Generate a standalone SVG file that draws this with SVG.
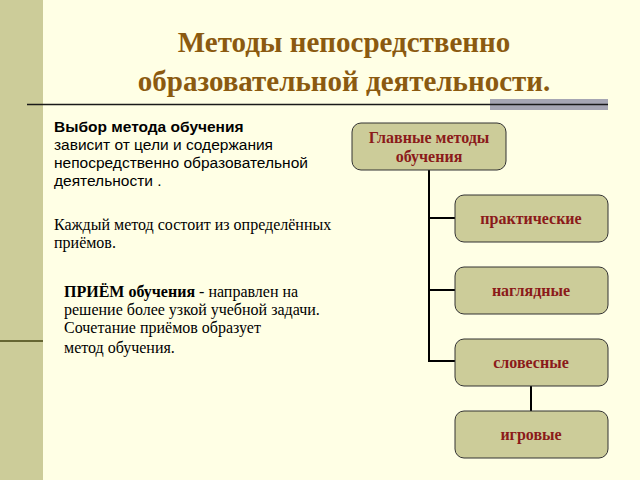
<svg xmlns="http://www.w3.org/2000/svg" width="640" height="480" viewBox="0 0 640 480">
<style>
.box{fill:#cccc99;stroke:#333;stroke-width:1}
.bt{font-family:"Liberation Serif",serif;font-weight:bold;font-size:16px;fill:#8b1a1a;text-anchor:middle}
.sans{font-family:"Liberation Sans",sans-serif;font-size:15.5px;fill:#000}
.serif{font-family:"Liberation Serif",serif;font-size:16px;fill:#000}
.c{stroke:#000;stroke-width:2;fill:none}
</style>
<rect width="640" height="480" fill="#ffffe5"/>
<rect x="0" y="0" width="43" height="480" fill="#cccc99"/>
<line x1="0" y1="341" x2="43" y2="341" stroke="#666633" stroke-width="2"/>
<rect x="490" y="99" width="118" height="11" fill="#a6a6b3"/>
<line x1="27" y1="104.5" x2="608" y2="104.5" stroke="#1a1a1a" stroke-width="1.5"/>
<g font-family="Liberation Serif,serif" font-weight="bold" font-size="29" fill="#8b5a10" text-anchor="middle">
<text x="344" y="52">Методы непосредственно</text>
<text x="344" y="91">образовательной деятельности.</text>
</g>
<g id="text-left">
<text class="sans" x="54" y="132"><tspan font-weight="bold">Выбор метода обучения</tspan></text>
<text class="sans" x="54" y="150">зависит от цели и содержания</text>
<text class="sans" x="54" y="168">непосредственно образовательной</text>
<text class="sans" x="54" y="186">деятельности .</text>
<text class="serif" x="54" y="230">Каждый метод состоит из  определённых</text>
<text class="serif" x="54" y="248">приёмов.</text>
<text class="serif" x="64" y="297"><tspan font-weight="bold">ПРИЁМ обучения</tspan> - направлен на</text>
<text class="serif" x="64" y="315">решение более узкой учебной задачи.</text>
<text class="serif" x="64" y="333">Сочетание приёмов образует</text>
<text class="serif" x="64" y="353">метод обучения.</text>
</g>
<g id="connectors">
<polyline class="c" points="429,170 429,361 455,361"/>
<line class="c" x1="429" y1="218" x2="455" y2="218"/>
<line class="c" x1="429" y1="290" x2="455" y2="290"/>
<line class="c" x1="531" y1="386" x2="531" y2="411"/>
</g>
<g id="main"><rect class="box" x="352" y="123" width="154" height="47" rx="9"/>
<text class="bt" x="429" y="143">Главные методы</text><text class="bt" x="429" y="162">обучения</text></g>
<g id="prakt"><rect class="box" x="455" y="195" width="153" height="47" rx="9"/><text class="bt" x="531" y="224">практические</text></g>
<g id="nagl"><rect class="box" x="455" y="267" width="153" height="47" rx="9"/><text class="bt" x="531" y="296">наглядные</text></g>
<g id="slov"><rect class="box" x="455" y="339" width="153" height="47" rx="9"/><text class="bt" x="531" y="368">словесные</text></g>
<g id="igr"><rect class="box" x="455" y="411" width="153" height="47" rx="9"/><text class="bt" x="531" y="440">игровые</text></g>
</svg>
